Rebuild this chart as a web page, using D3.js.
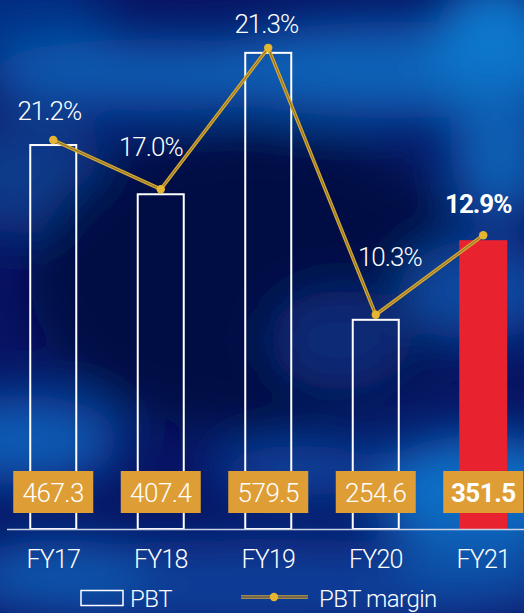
<!DOCTYPE html>
<html>
<head>
<meta charset="utf-8">
<script src="https://cdn.jsdelivr.net/npm/d3@7"></script>
<style>
  html, body { margin: 0; padding: 0; background: #061360; }
  svg { display: block; }
  text { font-family: Roboto, "Noto Sans", sans-serif; fill: #fff; }
</style>
</head>
<body>
<div id="chart"></div>
<script>
// chart data
var years = ['FY17', 'FY18', 'FY19', 'FY20', 'FY21'];
var pbt = [467.3, 407.4, 579.5, 254.6, 351.5];
var pbtMargin = [21.2, 17.0, 21.3, 10.3, 12.9];
var legendLabels = ['PBT', 'PBT margin'];

// label nudges (layout only)
var pctDx = [-4, -10, -2, 14, -5];
var pctDy = [20, 33, 15, 49, 22];

var W = 524, H = 613;
var gold = '#d2a534', dotGold = '#e6b632', boxGold = '#de9e35', red = '#e8222f';

var svg = d3.select('#chart').append('svg')
  .attr('width', W).attr('height', H);

// cloudy blue background
var defs = svg.append('defs');
defs.append('filter').attr('id', 'blur')
  .attr('x', '-50%').attr('y', '-50%').attr('width', '200%').attr('height', '200%')
  .append('feGaussianBlur').attr('stdDeviation', 24);

svg.append('rect').attr('width', W).attr('height', H).attr('fill', '#071463');

var clouds = [
  [30, 20, 80, 40, '#05348a'],
  [150, 75, 170, 36, '#0a5cb2'],
  [390, 70, 200, 48, '#0a62b8'],
  [495, 40, 60, 60, '#0b78cc'],
  [500, 150, 50, 70, '#0a5eb4'],
  [30, 175, 80, 60, '#0a3a8a'],
  [250, 280, 220, 150, '#050a44'],
  [340, 340, 70, 50, '#0a2a78'],
  [480, 290, 80, 50, '#0a48a0'],
  [20, 440, 100, 45, '#0a5ab4'],
  [480, 490, 110, 55, '#0a6ec6'],
  [300, 470, 90, 25, '#0a48a4'],
  [260, 585, 320, 45, '#0a3d96'],
  [60, 570, 90, 30, '#0a58b0'],
  [470, 560, 80, 30, '#0a52aa']
];
svg.append('g').attr('filter', 'url(#blur)')
  .selectAll('ellipse').data(clouds).join('ellipse')
  .attr('cx', function(d) { return d[0]; })
  .attr('cy', function(d) { return d[1]; })
  .attr('rx', function(d) { return d[2]; })
  .attr('ry', function(d) { return d[3]; })
  .attr('fill', function(d) { return d[4]; });

var x = d3.scaleBand().domain(years).range([-0.5, 537])
  .paddingInner(0.572).paddingOuter(0.286);
var y = d3.scaleLinear().domain([0, 600]).range([529, 36]);

var rows = years.map(function(k, i) {
  return { year: k, pbt: pbt[i], margin: pbtMargin[i], i: i, last: i === years.length - 1 };
});
function cx(d) { return x(d.year) + x.bandwidth() / 2; }

// bars
svg.append('g').selectAll('rect').data(rows).join('rect')
  .attr('x', function(d) { return d.last ? x(d.year) - 1 : x(d.year); })
  .attr('y', function(d) { return y(d.pbt); })
  .attr('width', function(d) { return d.last ? x.bandwidth() + 2 : x.bandwidth(); })
  .attr('height', function(d) { return y(0) - y(d.pbt); })
  .attr('fill', function(d) { return d.last ? red : 'none'; })
  .attr('stroke', function(d) { return d.last ? 'none' : '#fff'; })
  .attr('stroke-width', 2);

// baseline
svg.append('line')
  .attr('x1', 7).attr('x2', W).attr('y1', 529.5).attr('y2', 529.5)
  .attr('stroke', '#c9d2e6').attr('stroke-width', 1.6);

// value boxes
var vb = svg.append('g').selectAll('g').data(rows).join('g')
  .attr('transform', function(d) { return 'translate(' + cx(d) + ',0)'; });
vb.append('rect')
  .attr('x', -40).attr('y', 471).attr('width', 80).attr('height', 42)
  .attr('fill', boxGold);
vb.append('text')
  .attr('y', 502).attr('text-anchor', 'middle')
  .attr('font-size', 26).attr('letter-spacing', -0.5)
  .attr('font-weight', function(d) { return d.last ? 700 : 300; })
  .text(function(d) { return d.pbt.toFixed(1); });

// category labels
svg.append('g').selectAll('text').data(rows).join('text')
  .attr('x', cx).attr('y', 568).attr('text-anchor', 'middle')
  .attr('font-size', 25).attr('letter-spacing', -0.8).attr('font-weight', 300)
  .text(function(d) { return d.year; });

// margin line, sitting on the bar tops
function dotY(d) { return y(d.pbt) - 5; }
var line = d3.line().x(cx).y(dotY);
svg.append('path').datum(rows).attr('d', line)
  .attr('fill', 'none').attr('stroke', gold).attr('stroke-width', 3.6);
svg.append('path').datum(rows).attr('d', line)
  .attr('fill', 'none').attr('stroke', '#6b5a22').attr('stroke-width', 0.9).attr('opacity', 0.8);
svg.append('g').selectAll('circle').data(rows).join('circle')
  .attr('cx', cx).attr('cy', dotY).attr('r', 4.2).attr('fill', dotGold);

// margin labels
svg.append('g').selectAll('text').data(rows).join('text')
  .attr('x', function(d) { return cx(d) + pctDx[d.i]; })
  .attr('y', function(d) { return dotY(d) - pctDy[d.i]; })
  .attr('text-anchor', 'middle')
  .attr('font-size', 26).attr('letter-spacing', -1)
  .attr('font-weight', function(d) { return d.last ? 700 : 300; })
  .text(function(d) { return d.margin.toFixed(1) + '%'; });

// legend
var lg = svg.append('g');
lg.append('rect').attr('x', 81).attr('y', 590.5).attr('width', 42).attr('height', 15)
  .attr('fill', 'none').attr('stroke', '#fff').attr('stroke-width', 1.5);
lg.append('text').attr('x', 130).attr('y', 607).attr('font-size', 24).attr('font-weight', 300)
  .attr('letter-spacing', -0.5).text(legendLabels[0]);
lg.append('line').attr('x1', 241).attr('x2', 308).attr('y1', 597).attr('y2', 597)
  .attr('stroke', gold).attr('stroke-width', 3.6);
lg.append('line').attr('x1', 241).attr('x2', 308).attr('y1', 597).attr('y2', 597)
  .attr('stroke', '#1a2a6a').attr('stroke-width', 1);
lg.append('circle').attr('cx', 274).attr('cy', 597).attr('r', 4.2).attr('fill', dotGold);
lg.append('text').attr('x', 319).attr('y', 607).attr('font-size', 24).attr('font-weight', 300)
  .attr('letter-spacing', -0.5).text(legendLabels[1]);
</script>
</body>
</html>
